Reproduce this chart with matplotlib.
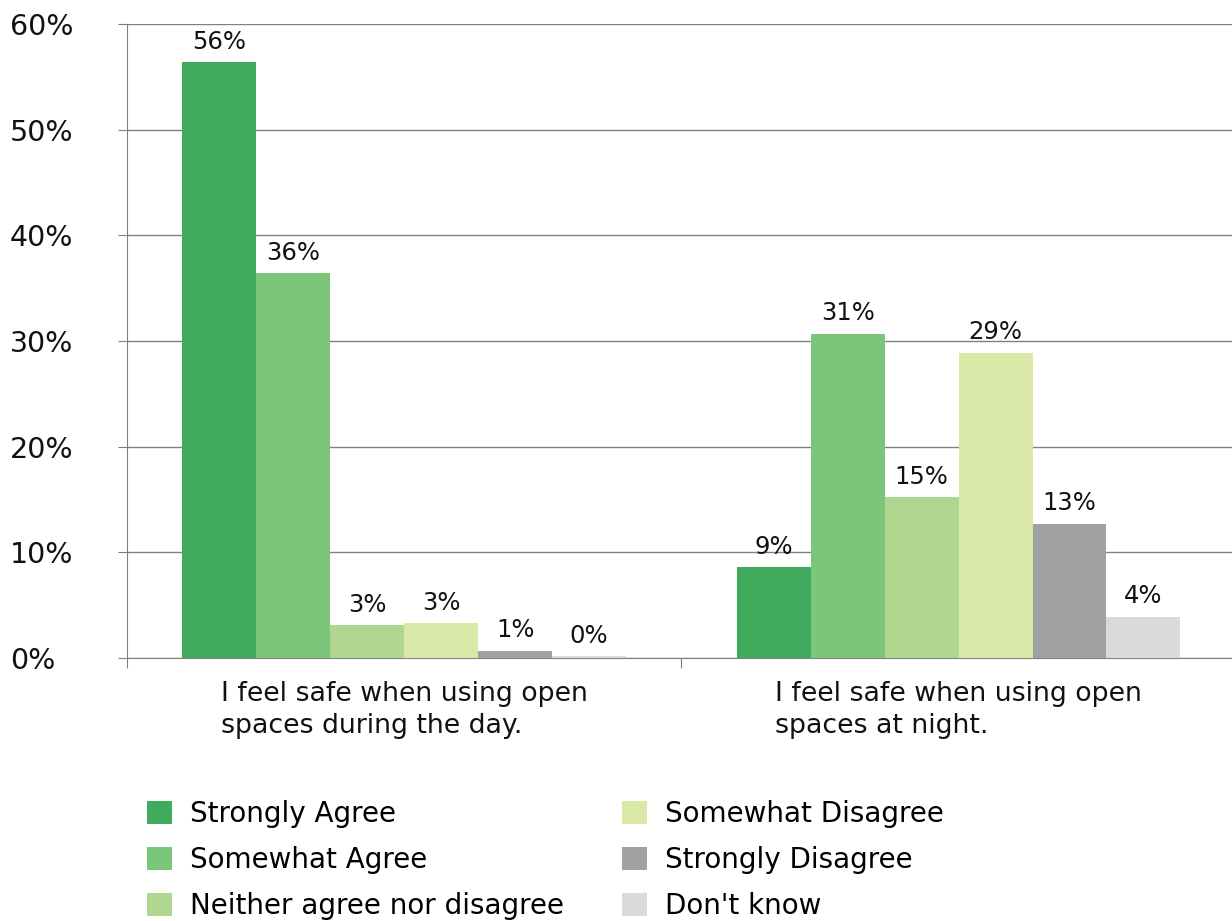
import matplotlib.pyplot as plt
import numpy as np

plt.rcParams['font.family'] = ['DejaVu Sans']

categories = ['I feel safe when using open\nspaces during the day.',
              'I feel safe when using open\nspaces at night.']
responses = ['Strongly Agree', 'Somewhat Agree', 'Neither agree nor disagree',
             'Somewhat Disagree', 'Strongly Disagree', "Don't know"]
colors = ['#41ab5d', '#7bc67b', '#b0d790', '#d9e8a6', '#a0a2a1', '#dadada']

# percent values per response: [day, night]
strongly_agree = [56.4, 8.6]
somewhat_agree = [36.4, 30.7]
neither = [3.1, 15.2]
somewhat_disagree = [3.3, 28.9]
strongly_disagree = [0.7, 12.7]
dont_know = [0.2, 3.9]
series = [strongly_agree, somewhat_agree, neither, somewhat_disagree,
          strongly_disagree, dont_know]

fig = plt.figure(figsize=(12.32, 9.21), dpi=100)
ax = fig.add_axes([0.1031, 0.2856, 0.9, 0.6885])

x = np.arange(len(categories))
w = 0.8 / len(series)
for i, (vals, col, name) in enumerate(zip(series, colors, responses)):
    pos = x - 0.4 + w * (i + 0.5)
    bars = ax.bar(pos, vals, width=w, color=col, label=name, zorder=3)
    ax.bar_label(bars, labels=[f'{round(v)}%' for v in vals], padding=6,
                 fontsize=17.5, color='#111111')

ax.set_xlim(-0.5, 1.5)
ax.set_ylim(0, 60)
ax.set_yticks(np.arange(0, 61, 10))
ax.set_yticklabels([f'{t}%' for t in range(0, 61, 10)], fontsize=20.5,
                   ha='left', color='#111111')
ax.tick_params(axis='y', length=6.5, color='#808080', pad=78)
ax.yaxis.grid(True, color='#808080', linewidth=1, zorder=0)

ax.set_xticks([-0.5, 0.5, 1.5])
ax.set_xticklabels([])
ax.tick_params(axis='x', length=7, color='#808080')
for xi, lab in zip(x, categories):
    ax.text(xi, -2.2, lab, ha='center', va='top', multialignment='left',
            fontsize=19.3, linespacing=1.3, color='#111111')

for s in ['top', 'right']:
    ax.spines[s].set_visible(False)
for s in ['left', 'bottom']:
    ax.spines[s].set_color('#808080')

handles, labels = ax.get_legend_handles_labels()
fig.legend(handles, labels, ncol=2, loc='upper left',
           bbox_to_anchor=(0.119, 0.131), frameon=False, fontsize=20,
           handlelength=0.9, handleheight=0.9, handletextpad=0.65,
           columnspacing=2.1, labelspacing=0.64, borderaxespad=0,
           borderpad=0)

fig.savefig('out.png', dpi=100)
